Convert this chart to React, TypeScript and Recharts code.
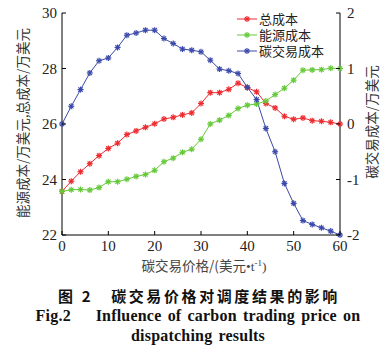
import React from 'react';
import { LineChart, Line, XAxis, YAxis } from 'recharts';

const price = [0, 2, 4, 6, 8, 10, 12, 14, 16, 18, 20, 22, 24, 26, 28, 30, 32, 34, 36, 38, 40, 42, 44, 46, 48, 50, 52, 54, 56, 58, 60];
const totalCost = [23.57, 23.94, 24.28, 24.57, 24.86, 25.12, 25.31, 25.62, 25.75, 25.88, 26.01, 26.18, 26.24, 26.33, 26.4, 26.74, 27.13, 27.13, 27.25, 27.47, 27.31, 27.16, 26.74, 26.58, 26.28, 26.17, 26.22, 26.12, 26.1, 26.06, 26.0];
const energyCost = [23.57, 23.63, 23.64, 23.62, 23.71, 23.92, 23.92, 24.01, 24.11, 24.18, 24.33, 24.64, 24.77, 24.98, 25.09, 25.45, 26.0, 26.14, 26.31, 26.56, 26.68, 26.72, 26.83, 27.06, 27.29, 27.58, 27.94, 27.95, 27.96, 28.01, 28.0];
const carbonCost = [0, 0.32, 0.62, 0.92, 1.14, 1.19, 1.38, 1.6, 1.64, 1.69, 1.69, 1.54, 1.45, 1.35, 1.33, 1.3, 1.15, 0.99, 0.96, 0.91, 0.66, 0.44, -0.08, -0.5, -1.07, -1.43, -1.74, -1.81, -1.87, -1.93, -2.0];

const xTicks = [0, 10, 20, 30, 40, 50, 60];
const leftTicks = [22, 24, 26, 28, 30];
const rightTicks = [-2, -1, 0, 1, 2];

const RED = '#ee2b30';
const GREEN = '#66c93a';
const BLUE = '#3b4aaa';

const seriesInfo = [
  { key: 'total', name: '总成本', color: RED, axis: 'left' },
  { key: 'energy', name: '能源成本', color: GREEN, axis: 'left' },
  { key: 'carbon', name: '碳交易成本', color: BLUE, axis: 'right' },
];

const data = price.map((p, i) => ({
  price: p,
  total: totalCost[i],
  energy: energyCost[i],
  carbon: carbonCost[i],
}));

const serif = '"Liberation Serif", "Times New Roman", serif';
const cjk = '"Noto Sans CJK SC", sans-serif';

const Star = ({ cx, cy, color }: { cx: number; cy: number; color: string }) => {
  const r = 3;
  const d = r * 0.72;
  return (
    <g stroke={color} strokeWidth={1.2}>
      <line x1={cx - r} y1={cy} x2={cx + r} y2={cy} />
      <line x1={cx} y1={cy - r} x2={cx} y2={cy + r} />
      <line x1={cx - d} y1={cy - d} x2={cx + d} y2={cy + d} />
      <line x1={cx - d} y1={cy + d} x2={cx + d} y2={cy - d} />
    </g>
  );
};

const makeDot = (color: string) => (props: any) => {
  const { cx, cy, index } = props;
  if (cx == null || cy == null) return <g key={index} />;
  return <Star key={index} cx={cx} cy={cy} color={color} />;
};

const LeftTick = (props: any) => {
  const { x, y, payload } = props;
  const ax = x + 5;
  return (
    <g>
      <line x1={ax} y1={y} x2={ax + 4} y2={y} stroke="#000" />
      <text x={x} y={y + 5} textAnchor="end" fontSize={15} fontFamily={serif} fill="#222">
        {payload.value}
      </text>
    </g>
  );
};

const RightTick = (props: any) => {
  const { x, y, payload } = props;
  const ax = x - 7;
  return (
    <g>
      <line x1={ax} y1={y} x2={ax - 4} y2={y} stroke="#000" />
      <text x={x} y={y + 5} textAnchor="start" fontSize={15} fontFamily={serif} fill="#222">
        {String(payload.value)}
      </text>
    </g>
  );
};

const BottomTick = (props: any) => {
  const { x, y, payload } = props;
  return (
    <g>
      <line x1={x} y1={y} x2={x} y2={y - 4} stroke="#000" />
      <text x={x} y={y + 16} textAnchor="middle" fontSize={15} fontFamily={serif} fill="#222">
        {payload.value}
      </text>
    </g>
  );
};

export default function App() {
  return (
    <div style={{ position: 'absolute', left: 0, top: 0, width: 386, height: 352, background: '#fff' }}>
      <LineChart width={386} height={352} data={data} margin={{ top: 13, left: 32, right: 16, bottom: 97 }}>
        <XAxis
          dataKey="price"
          type="number"
          domain={[0, 60]}
          ticks={xTicks}
          tickSize={0}
          tickMargin={0}
          height={20}
          stroke="#000"
          tick={<BottomTick />}
          interval={0}
        />
        <YAxis
          yAxisId="left"
          orientation="left"
          domain={[22, 30]}
          ticks={leftTicks}
          tickSize={0}
          tickMargin={5}
          width={30}
          stroke="#000"
          tick={<LeftTick />}
          interval={0}
        />
        <YAxis
          yAxisId="right"
          orientation="right"
          domain={[-2, 2]}
          ticks={rightTicks}
          tickSize={0}
          tickMargin={7}
          width={30}
          stroke="#000"
          tick={<RightTick />}
          interval={0}
        />
        {seriesInfo.map((s) => (
          <Line
            key={s.key}
            yAxisId={s.axis}
            dataKey={s.key}
            name={s.name}
            type="linear"
            stroke={s.color}
            strokeWidth={1}
            dot={makeDot(s.color)}
            activeDot={false}
            isAnimationActive={false}
          />
        ))}
      </LineChart>

      {/* legend */}
      <div style={{ position: 'absolute', left: 237, top: 11 }}>
        {seriesInfo.map((s) => (
          <div key={s.key} style={{ display: 'flex', alignItems: 'center', height: 16 }}>
            <svg width={20} height={10}>
              <line x1={0} y1={5} x2={20} y2={5} stroke={s.color} strokeWidth={1} />
              <Star cx={10} cy={5} color={s.color} />
            </svg>
            <span style={{ marginLeft: 2, fontFamily: cjk, fontSize: 13, color: '#222', lineHeight: '16px' }}>{s.name}</span>
          </div>
        ))}
      </div>

      {/* left axis label */}
      <div
        style={{
          position: 'absolute',
          left: 22,
          top: 123,
          transform: 'translate(-50%, -50%) rotate(-90deg)',
          whiteSpace: 'nowrap',
          fontFamily: cjk,
          fontSize: 13.5,
          color: '#333',
        }}
      >
        能源成本/万美元,总成本/万美元
      </div>

      {/* right axis label */}
      <div
        style={{
          position: 'absolute',
          left: 371,
          top: 122,
          transform: 'translate(-50%, -50%) rotate(-90deg)',
          whiteSpace: 'nowrap',
          fontFamily: cjk,
          fontSize: 13.5,
          color: '#333',
        }}
      >
        碳交易成本/万美元
      </div>

      {/* x axis label */}
      <div
        style={{
          position: 'absolute',
          left: 204,
          top: 265,
          transform: 'translate(-50%, -50%)',
          whiteSpace: 'nowrap',
          fontFamily: cjk,
          fontSize: 13.5,
          color: '#444',
        }}
      >
        碳交易价格/(美元<span style={{ fontFamily: serif }}>•t<sup style={{ fontSize: 9 }}>-1</sup>)</span>
      </div>

      {/* caption */}
      <div
        style={{
          position: 'absolute',
          left: 199,
          top: 295,
          transform: 'translate(-50%, -50%)',
          whiteSpace: 'nowrap',
          fontFamily: cjk,
          fontWeight: 700,
          fontSize: 15,
          letterSpacing: 2.6,
          color: '#111',
        }}
      >
        图 2&nbsp;&nbsp;&nbsp;碳交易价格对调度结果的影响
      </div>
      <div
        style={{
          position: 'absolute',
          left: 198,
          top: 316,
          transform: 'translate(-50%, -50%)',
          whiteSpace: 'nowrap',
          fontFamily: serif,
          fontWeight: 700,
          fontSize: 16,
          wordSpacing: 2,
          letterSpacing: 0.2,
          color: '#111',
        }}
      >
        Fig.2&nbsp;&nbsp;&nbsp;&nbsp;Influence of carbon trading price on
      </div>
      <div
        style={{
          position: 'absolute',
          left: 198,
          top: 336,
          transform: 'translate(-50%, -50%)',
          whiteSpace: 'nowrap',
          fontFamily: serif,
          fontWeight: 700,
          fontSize: 16,
          wordSpacing: 2,
          letterSpacing: 0.2,
          color: '#111',
        }}
      >
        dispatching results
      </div>
    </div>
  );
}
